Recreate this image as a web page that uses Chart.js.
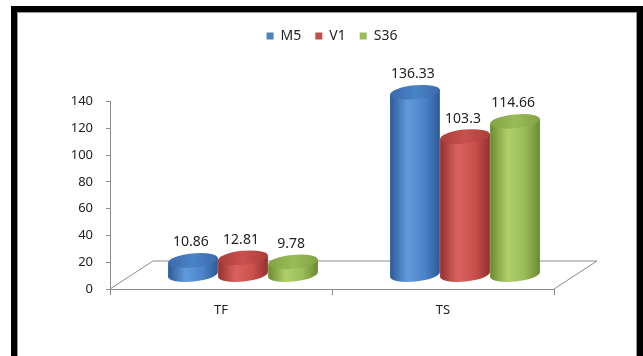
<!DOCTYPE html>
<html>
<head>
<meta charset="utf-8">
<script src="https://cdn.jsdelivr.net/npm/chart.js@4.4.1/dist/chart.umd.min.js"></script>
<style>
body { margin: 0; background: #fff; }
#marco {
    position: absolute; left: 11px; top: 6px; width: 632px; height: 360px;
    border: 6px solid #000; border-bottom: none; box-sizing: border-box;
    box-shadow: inset 1px 1px 0 #999, inset -1px 0 0 #999;
}
#grafico { position: absolute; left: 0; top: 0; }
</style>
</head>
<body>
<div id="marco"></div>
<canvas id="grafico" width="643" height="356"></canvas>
<script>
// Datos del gráfico
const categorias = ['TF', 'TS'];
const series = ['M5', 'V1', 'S36'];
const valoresM5 = [10.86, 136.33];
const valoresV1 = [12.81, 103.3];
const valoresS36 = [9.78, 114.66];
const ejeMin = 0;
const ejeMax = 140;
const ejePaso = 20;

// Colores (leyenda y cilindros)
const coloresLeyenda = ['#4F81BD', '#C0504D', '#9BBB59'];
const coloresCilindro = [
    { oscuro: '#2c5a94', claro: '#629add', medio: '#4a83c8', tapa: '#3b6aab' },
    { oscuro: '#94302e', claro: '#d9625f', medio: '#c9504d', tapa: '#ab3e3b' },
    { oscuro: '#6a8a2f', claro: '#b0cf6b', medio: '#9abb58', tapa: '#83a343' }
];

const fuente = '"Noto Sans", sans-serif';
const colorTexto = '#222';
const colorEje = '#8c8c8c';

// Profundidad del suelo 3D y posición de los cilindros dentro de él
const fondo = { dx: 43, dy: 28 };
const medio = { dx: 22, dy: 14 };

function cilindro(ctx, cx, arriba, abajo, ancho, col) {
    const rx = ancho / 2, ry = 7, giro = -0.1;
    const ox = rx * Math.cos(giro), oy = rx * Math.sin(giro);

    // cuerpo
    const grad = ctx.createLinearGradient(cx - rx, 0, cx + rx, 0);
    grad.addColorStop(0, col.oscuro);
    grad.addColorStop(0.35, col.claro);
    grad.addColorStop(0.7, col.medio);
    grad.addColorStop(1, col.oscuro);
    ctx.beginPath();
    ctx.moveTo(cx - ox, arriba - oy);
    ctx.lineTo(cx - ox, abajo - oy);
    ctx.ellipse(cx, abajo, rx, ry, giro, Math.PI, 0, true);
    ctx.lineTo(cx + ox, arriba + oy);
    ctx.closePath();
    ctx.fillStyle = grad;
    ctx.fill();

    // tapa
    const gradTapa = ctx.createLinearGradient(cx - rx, 0, cx + rx, 0);
    gradTapa.addColorStop(0, col.tapa);
    gradTapa.addColorStop(0.5, col.medio);
    gradTapa.addColorStop(1, col.tapa);
    ctx.beginPath();
    ctx.ellipse(cx, arriba, rx, ry, giro, 0, Math.PI * 2);
    ctx.fillStyle = gradTapa;
    ctx.fill();
}

const cilindros3D = {
    id: 'cilindros3D',
    beforeDatasetsDraw(chart) {
        const { ctx, chartArea: a, scales: { y } } = chart;
        const y0 = y.getPixelForValue(0);
        ctx.save();

        // suelo en perspectiva
        ctx.strokeStyle = colorEje;
        ctx.lineWidth = 1;
        ctx.beginPath();
        ctx.moveTo(a.left, y0);
        ctx.lineTo(a.left + fondo.dx, y0 - fondo.dy);
        ctx.lineTo(a.right + fondo.dx, y0 - fondo.dy);
        ctx.lineTo(a.right, y0);
        ctx.stroke();

        // cilindros: azul, verde, rojo (el rojo queda delante)
        [0, 2, 1].forEach(i => {
            const meta = chart.getDatasetMeta(i);
            meta.data.forEach(barra => {
                const p = barra.getProps(['x', 'y', 'base', 'width'], true);
                cilindro(ctx, p.x + medio.dx, p.y - medio.dy, p.base - medio.dy, p.width, coloresCilindro[i]);
            });
        });

        // etiquetas de valor
        ctx.fillStyle = colorTexto;
        ctx.font = '14px ' + fuente;
        ctx.textAlign = 'center';
        ctx.textBaseline = 'middle';
        chart.data.datasets.forEach((ds, i) => {
            chart.getDatasetMeta(i).data.forEach((barra, j) => {
                const p = barra.getProps(['x', 'y'], true);
                ctx.fillText(String(ds.data[j]), p.x + medio.dx - 2, p.y - medio.dy - 18);
            });
        });
        ctx.restore();
    },
    beforeDatasetDraw() {
        return false; // las barras planas no se dibujan
    }
};

const ctx = document.getElementById('grafico').getContext('2d');

const grafico = new Chart(ctx, {
    type: 'bar',
    data: {
        labels: categorias,
        datasets: [
            { label: series[0], data: valoresM5, backgroundColor: coloresLeyenda[0], borderWidth: 0 },
            { label: series[1], data: valoresV1, backgroundColor: coloresLeyenda[1], borderWidth: 0 },
            { label: series[2], data: valoresS36, backgroundColor: coloresLeyenda[2], borderWidth: 0 }
        ]
    },
    options: {
        responsive: false,
        animation: false,
        events: [],
        layout: { padding: { left: 60, right: 89, top: 15, bottom: 0 } },
        datasets: { bar: { categoryPercentage: 0.676, barPercentage: 1 } },
        plugins: {
            legend: {
                position: 'top',
                fullSize: false,
                labels: { boxWidth: 7, boxHeight: 7, padding: 14, color: colorTexto, font: { family: fuente, size: 14 } }
            },
            // espacio vacío entre la leyenda y el área del gráfico
            subtitle: { display: true, text: '', weight: 500, padding: { top: 0, bottom: 34 }, font: { size: 12 } },
            tooltip: { enabled: false }
        },
        scales: {
            x: {
                grid: { display: true, drawOnChartArea: false, tickLength: 6, color: colorEje, offset: true },
                border: { color: colorEje },
                ticks: { padding: 7, color: colorTexto, font: { family: fuente, size: 13 } },
                afterFit(s) { s.height = 67; }
            },
            y: {
                min: ejeMin,
                max: ejeMax,
                ticks: { stepSize: ejePaso, padding: 13, color: colorTexto, font: { family: fuente, size: 13 } },
                grid: { drawOnChartArea: false, tickLength: 4, color: colorEje },
                border: { color: colorEje },
                afterFit(s) { s.width = 50; }
            }
        }
    },
    plugins: [cilindros3D]
});
</script>
</body>
</html>
